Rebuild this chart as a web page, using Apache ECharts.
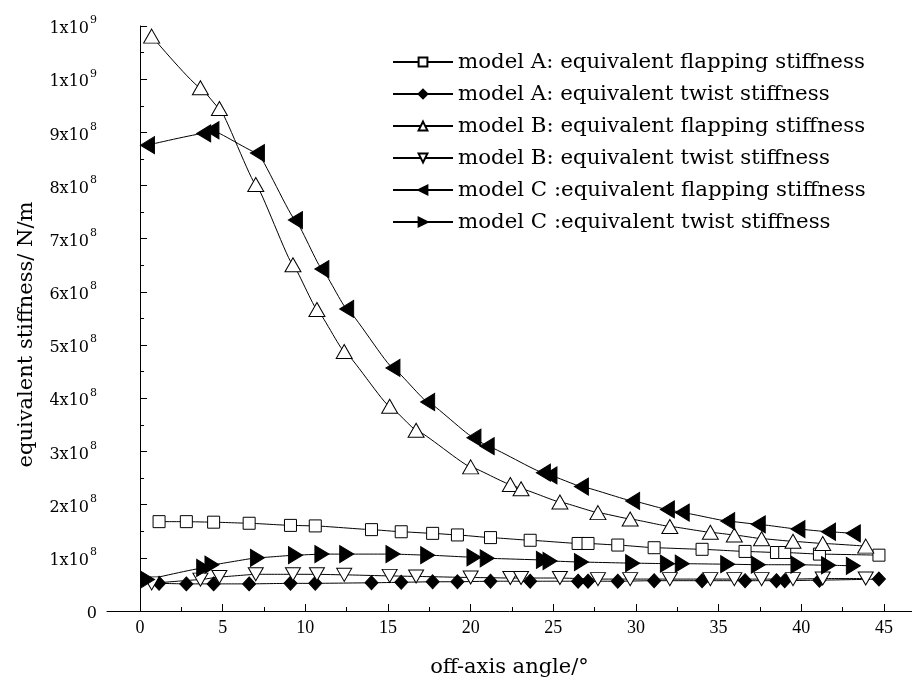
<!DOCTYPE html>
<html><head><meta charset="utf-8">
<script src="https://cdn.jsdelivr.net/npm/echarts@6/dist/echarts.min.js"></script>
<style>html,body{margin:0;padding:0;background:#fff}#c{width:912px;height:683px}</style>
</head><body><div id="c"></div>
<script>
// ---- data (stiffness values in units of 1e8 N/m) ----
const seriesNames = [
  'model A: equivalent flapping stiffness',
  'model A: equivalent twist stiffness',
  'model B: equivalent flapping stiffness',
  'model B: equivalent twist stiffness',
  'model C :equivalent flapping stiffness',
  'model C :equivalent twist stiffness'
];
const angleA = [1.15, 2.8, 4.45, 6.6, 9.1, 10.6, 14.0, 15.8, 17.7, 19.2, 21.2, 23.6, 26.5, 27.1, 28.9, 31.1, 34.0, 36.6, 38.5, 39.0, 41.1, 44.7];
const flapA  = [1.68, 1.68, 1.67, 1.65, 1.61, 1.60, 1.53, 1.49, 1.46, 1.43, 1.38, 1.33, 1.27, 1.27, 1.24, 1.19, 1.16, 1.12, 1.10, 1.10, 1.07, 1.05];
const twistA = [0.52, 0.51, 0.51, 0.51, 0.52, 0.52, 0.53, 0.54, 0.55, 0.55, 0.56, 0.56, 0.56, 0.56, 0.56, 0.57, 0.57, 0.57, 0.57, 0.57, 0.58, 0.60];
const angleB = [0.7, 3.65, 4.8, 7.0, 9.25, 10.7, 12.35, 15.1, 16.7, 20.0, 22.4, 23.05, 25.4, 27.7, 29.65, 32.05, 34.5, 35.95, 37.6, 39.5, 41.3, 43.9];
const flapB  = [10.81, 9.84, 9.45, 8.02, 6.51, 5.67, 4.88, 3.85, 3.40, 2.71, 2.38, 2.30, 2.05, 1.85, 1.73, 1.59, 1.48, 1.43, 1.36, 1.31, 1.27, 1.22];
const twistB = [0.52, 0.59, 0.64, 0.69, 0.69, 0.69, 0.68, 0.66, 0.65, 0.63, 0.62, 0.62, 0.62, 0.60, 0.60, 0.60, 0.60, 0.60, 0.60, 0.60, 0.61, 0.61];
const angleC = [0.45, 3.85, 4.35, 7.1, 9.4, 11.0, 12.5, 15.3, 17.4, 20.2, 21.0, 24.4, 24.8, 26.7, 29.8, 31.9, 32.8, 35.55, 37.4, 39.8, 41.65, 43.15];
const flapC  = [8.76, 8.98, 9.04, 8.61, 7.35, 6.43, 5.68, 4.57, 3.93, 3.26, 3.10, 2.60, 2.55, 2.34, 2.07, 1.91, 1.85, 1.69, 1.63, 1.54, 1.49, 1.46];
const twistC = [0.59, 0.81, 0.87, 1.00, 1.05, 1.07, 1.07, 1.07, 1.05, 1.01, 0.99, 0.96, 0.94, 0.92, 0.90, 0.89, 0.89, 0.88, 0.87, 0.87, 0.86, 0.85];

const xTickValues = [0, 5, 10, 15, 20, 25, 30, 35, 40, 45];
const xTickLabels = ['0', '5', '10', '15', '20', '25', '30', '35', '40', '45'];
const xMinorTicks = [2.5, 7.5, 12.5, 17.5, 22.5, 27.5, 32.5, 37.5, 42.5];
const yTickLabels = ['0', '1x10^8', '2x10^8', '3x10^8', '4x10^8', '5x10^8', '6x10^8', '7x10^8', '8x10^8', '9x10^8', '1x10^9', '1x10^9'];
const xTitle = 'off-axis angle/°';
const yTitle = 'equivalent stiffness/ N/m';

// ---- chart ----
function pairs(xs, ys) { return xs.map((x, i) => [x, ys[i]]); }
const SERIF = 'DejaVu Serif';
const TIMES = 'Liberation Serif';

function mk(name, xs, ys, symbol, size, rotate, fill) {
  return {
    name: name, type: 'line', data: pairs(xs, ys), xAxisIndex: 0, yAxisIndex: 0,
    smooth: 0.1, smoothMonotone: 'x',
    symbol: symbol, symbolSize: size, symbolRotate: rotate, showAllSymbol: true,
    lineStyle: { color: '#000', width: 1 },
    itemStyle: { color: fill, borderColor: '#000', borderWidth: 1 },
    emphasis: { disabled: true }, clip: false
  };
}

const chart = echarts.init(document.getElementById('c'), null, { renderer: 'canvas' });
chart.setOption({
  animation: false,
  backgroundColor: '#fff',
  grid: { left: 107, right: 0, top: 26, bottom: 71, containLabel: false },
  legend: {
    orient: 'vertical', left: 392, top: 51, padding: 0,
    itemWidth: 60, itemHeight: 11, itemGap: 10,
    textStyle: { fontFamily: SERIF, fontSize: 21.3, color: '#000', lineHeight: 22 },
    data: seriesNames
  },
  xAxis: [{
    type: 'value', min: -2, max: 46.7, position: 'bottom',
    name: xTitle, nameLocation: 'middle', nameGap: 46,
    nameTextStyle: { fontFamily: SERIF, fontSize: 21, color: '#000' },
    axisLine: { show: true, onZero: false, lineStyle: { color: '#000', width: 1 } },
    axisTick: { show: true, inside: true, length: 7, lineStyle: { color: '#000' }, customValues: xTickValues },
    axisLabel: { show: true, customValues: xTickValues, margin: 8, color: '#000', fontFamily: TIMES, fontSize: 18,
      formatter: (v) => { const i = xTickValues.indexOf(Math.round(v)); return i >= 0 ? xTickLabels[i] : ''; } },
    splitLine: { show: false }
  }, {
    type: 'value', min: -2, max: 46.7, position: 'bottom',
    axisLine: { show: false },
    axisTick: { show: true, inside: true, length: 4, lineStyle: { color: '#000' }, customValues: xMinorTicks },
    axisLabel: { show: false },
    splitLine: { show: false }
  }],
  yAxis: {
    type: 'value', min: 0, max: 11, interval: 1,
    name: yTitle, nameLocation: 'middle', nameGap: 70,
    nameTextStyle: { fontFamily: SERIF, fontSize: 21, color: '#000', padding: [0, 32, 0, 0] },
    axisLine: { show: true, lineStyle: { color: '#000', width: 1 } },
    axisTick: { show: true, inside: true, length: 7, lineStyle: { color: '#000' } },
    minorTick: { show: true, splitNumber: 2, length: 4, lineStyle: { color: '#000' } },
    axisLabel: {
      margin: 10, color: '#000', fontFamily: SERIF, fontSize: 16,
      formatter: (v) => {
        const s = yTickLabels[Math.round(v)];
        if (s.indexOf('^') < 0) return '{b|' + s + '}';
        const p = s.split('^');
        return '{b|' + p[0] + '}{s|' + p[1] + '}';
      },
      rich: {
        b: { fontFamily: SERIF, fontSize: 16, color: '#000', verticalAlign: 'bottom', lineHeight: 22 },
        s: { fontFamily: SERIF, fontSize: 11, color: '#000', verticalAlign: 'top', lineHeight: 22, padding: [0, 0, 0, 1] }
      }
    },
    splitLine: { show: false }, minorSplitLine: { show: false }
  },
  series: [
    mk(seriesNames[0], angleA, flapA, 'rect', 12, 0, '#fff'),
    mk(seriesNames[1], angleA, twistA, 'diamond', [13, 14], 0, '#000'),
    mk(seriesNames[2], angleB, flapB, 'triangle', [16, 14], 0, '#fff'),
    mk(seriesNames[3], angleB, twistB, 'triangle', [15, 13], 180, '#fff'),
    mk(seriesNames[4], angleC, flapC, 'triangle', [17, 14], 90, '#000'),
    mk(seriesNames[5], angleC, twistC, 'triangle', [17, 14], -90, '#000')
  ]
});
</script></body></html>
